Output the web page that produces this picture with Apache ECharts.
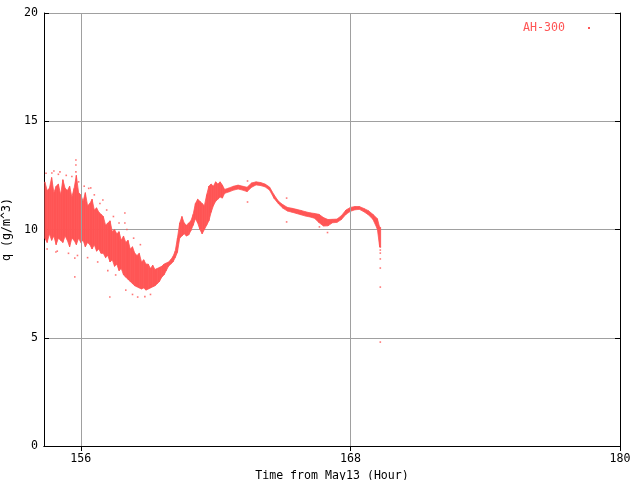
<!DOCTYPE html>
<html><head><meta charset="utf-8">
<script src="https://cdn.jsdelivr.net/npm/echarts@6/dist/echarts.min.js"></script>
<style>html,body{margin:0;padding:0;background:#fff}#c{width:640px;height:480px}</style>
</head><body><div id="c"></div>
<script>
// Time (hour from May13) samples, with lower / upper value of the measured band (g/m^3)
const hours = [
154.4,154.5,154.6,154.7,154.8,154.9,155.0,155.1,155.2,155.3,155.4,155.5,155.6,155.7,155.8,155.9,
156.0,156.1,156.2,156.3,156.4,156.5,156.6,156.7,156.8,156.9,157.0,157.1,157.2,157.3,157.4,157.5,
157.6,157.7,157.8,157.9,158.0,158.1,158.2,158.3,158.4,158.5,158.6,158.7,158.8,158.9,159.0,159.1,
159.2,159.3,159.4,159.5,159.6,159.7,159.8,159.9,160.0,160.1,160.2,160.3,160.4,160.5,160.6,160.7,
160.8,160.9,161.0,161.1,161.2,161.3,161.4,161.5,161.6,161.7,161.8,161.9,162.0,162.1,162.2,162.3,
162.4,162.6,162.8,163.0,163.2,163.4,163.6,163.8,164.0,164.2,164.4,164.6,164.8,165.0,165.2,165.4,
165.6,165.8,166.0,166.2,166.4,166.6,166.8,167.0,167.2,167.4,167.6,167.8,168.0,168.2,168.4,168.6,
168.8,169.0,169.2,169.3
];
const qHigh = [
12.2,11.8,11.9,12.4,11.7,12.0,12.1,11.6,12.3,11.9,11.8,12.0,11.5,11.9,12.5,11.7,
11.6,11.3,11.7,11.1,11.2,11.4,10.9,11.0,10.8,10.7,10.6,10.2,10.3,10.4,9.9,10.0,
9.8,9.9,9.5,9.7,9.4,9.5,9.1,9.2,8.9,8.8,8.9,8.5,8.6,8.4,8.4,8.2,
8.35,8.15,8.2,8.25,8.3,8.4,8.45,8.5,8.6,8.75,9.0,9.6,10.3,10.6,10.3,10.2,
10.3,10.4,10.7,11.2,11.4,11.3,11.2,11.1,11.6,12.0,12.1,12.0,12.2,12.1,12.2,12.05,
11.85,11.92,12.0,12.05,12.0,11.95,12.15,12.2,12.17,12.1,11.96,11.6,11.3,11.14,11.02,10.98,
10.93,10.88,10.82,10.77,10.74,10.7,10.55,10.46,10.47,10.48,10.64,10.9,11.02,11.06,11.06,10.97,
10.87,10.7,10.5,10.1
];
const qLow = [
9.6,9.4,9.8,9.5,9.7,9.3,9.6,9.5,9.4,9.7,9.5,9.2,9.6,9.5,9.3,9.6,
9.4,9.5,9.2,9.4,9.3,9.1,9.3,9.0,9.1,8.9,8.9,8.7,8.8,8.5,8.6,8.3,
8.4,8.1,8.2,7.9,7.8,7.7,7.6,7.5,7.4,7.35,7.3,7.25,7.3,7.2,7.25,7.3,
7.35,7.4,7.5,7.6,7.8,7.9,8.1,8.3,8.4,8.5,8.7,8.95,9.6,9.7,9.8,9.7,
9.75,9.95,10.2,10.5,10.3,10.0,9.8,10.0,10.2,10.4,10.8,11.1,11.3,11.4,11.5,11.45,
11.67,11.74,11.82,11.87,11.82,11.75,11.95,12.06,12.03,11.97,11.82,11.44,11.18,10.98,10.85,10.8,
10.74,10.68,10.62,10.58,10.52,10.32,10.16,10.17,10.31,10.33,10.46,10.7,10.84,10.91,10.93,10.82,
10.68,10.47,10.02,9.2
];
// isolated points
const dotHours = [155.78,155.78,155.78,154.71,155.07,155.73,155.73,157.29,157.96,157.96,158.53,154.89,156.44,156.98,
  154.45,154.8,155.0,155.35,155.6,155.9,156.15,156.35,156.6,156.85,157.15,157.45,157.7,158.05,158.35,158.65,
  154.5,154.95,155.45,155.85,156.3,156.75,157.2,157.55,158.0,158.3,158.85,159.1,
  163.42,163.42,165.16,165.16,166.62,166.98,169.33,169.33,169.33,169.33,169.33,169.33,169.33];
const dotQ = [13.21,12.98,12.66,12.61,12.66,7.81,8.68,6.88,10.76,10.3,6.88,8.96,11.92,11.36,
  12.6,12.7,12.55,12.5,12.45,12.2,12.0,11.9,11.6,11.2,10.9,10.6,10.3,10.0,9.6,9.3,
  9.1,9.0,8.9,8.8,8.7,8.5,8.1,7.9,7.2,7.0,6.9,7.0,
  12.24,11.27,11.45,10.35,10.12,9.86,9.19,9.05,8.91,8.64,8.22,7.34,4.80];
const xTicks = [156, 168, 180];
const seriesName = 'AH-300';

const RED = '#ff5555';
const GRID = '#a0a0a0';
const FONT = 'DejaVu Sans Mono';
const FS = 11.6;

const bandData = hours.map((t, i) => [t, qLow[i], qHigh[i]]);
const dotData = dotHours.map((t, i) => [t, dotQ[i]]);

const chart = echarts.init(document.getElementById('c'), null, {renderer: 'canvas'});
const axisCommon = {
  axisLine: {show: true, lineStyle: {color: '#000', width: 1}},
  splitLine: {show: false}
};
chart.setOption({
  animation: false,
  backgroundColor: '#fff',
  grid: {left: 44, right: 20, top: 13, bottom: 34, containLabel: false, outerBoundsMode: 'none'},
  legend: {
    show: true, right: 45, top: 17, align: 'right', orient: 'horizontal',
    data: [{name: seriesName, icon: 'rect'}],
    itemWidth: 2, itemHeight: 2,
    textStyle: {color: RED, fontFamily: FONT, fontSize: FS, padding: [0, 18, 0, 0]},
    itemStyle: {color: RED}
  },
  xAxis: [{
    ...axisCommon, type: 'value', position: 'bottom', min: 154.36, max: 180,
    axisTick: {show: true, inside: true, length: 5, lineStyle: {color: '#000'}, customValues: xTicks},
    axisLabel: {show: true, customValues: xTicks, color: '#000', fontFamily: FONT, fontSize: FS, margin: 7},
    name: 'Time from May13 (Hour)', nameLocation: 'middle', nameGap: 22,
    nameTextStyle: {color: '#000', fontFamily: FONT, fontSize: FS}
  }, {
    ...axisCommon, type: 'value', position: 'top', min: 154.36, max: 180,
    axisTick: {show: true, inside: true, length: 5, lineStyle: {color: '#000'}, customValues: xTicks},
    axisLabel: {show: false}
  }],
  yAxis: [{
    ...axisCommon, type: 'value', position: 'left', min: 0, max: 20, interval: 5,
    splitLine: {show: true, lineStyle: {color: GRID, width: 1}},
    axisTick: {show: true, inside: true, length: 5, lineStyle: {color: '#000'}},
    axisLabel: {color: '#000', fontFamily: FONT, fontSize: FS, margin: 6},
    name: 'q (g/m^3)', nameLocation: 'middle', nameGap: 28, nameRotate: 90,
    nameTextStyle: {color: '#000', fontFamily: FONT, fontSize: FS}
  }, {
    ...axisCommon, type: 'value', position: 'right', min: 0, max: 20, interval: 5,
    axisTick: {show: true, inside: true, length: 5, lineStyle: {color: '#000'}},
    axisLabel: {show: false}
  }],
  series: [{
    name: seriesName, type: 'custom', data: bandData, clip: true,
    itemStyle: {color: RED},
    renderItem: function (params, api) {
      const i = params.dataIndex;
      const j = Math.min(i + 1, hours.length - 1);
      const p1 = api.coord([hours[i], qHigh[i]]);
      const p2 = api.coord([hours[i], qLow[i]]);
      let q1 = api.coord([hours[j], qHigh[j]]);
      let q2 = api.coord([hours[j], qLow[j]]);
      if (j === i) { q1 = [p1[0] + 1, p1[1]]; q2 = [p2[0] + 1, p2[1]]; }
      return {type: 'polygon', shape: {points: [p1, q1, q2, p2]},
        style: {fill: RED, stroke: RED, lineWidth: 0.8}};
    },
    encode: {x: 0, y: [1, 2]},
    markLine: {
      silent: true, symbol: 'none', label: {show: false}, animation: false,
      lineStyle: {color: GRID, width: 1, type: 'solid'},
      data: xTicks.slice(0, 2).map(v => ({xAxis: v}))
    },
    z: 3
  }, {
    name: seriesName, type: 'scatter', data: dotData, symbol: 'rect', symbolSize: 1.6,
    itemStyle: {color: RED}, z: 4
  }]
});
</script></body></html>
